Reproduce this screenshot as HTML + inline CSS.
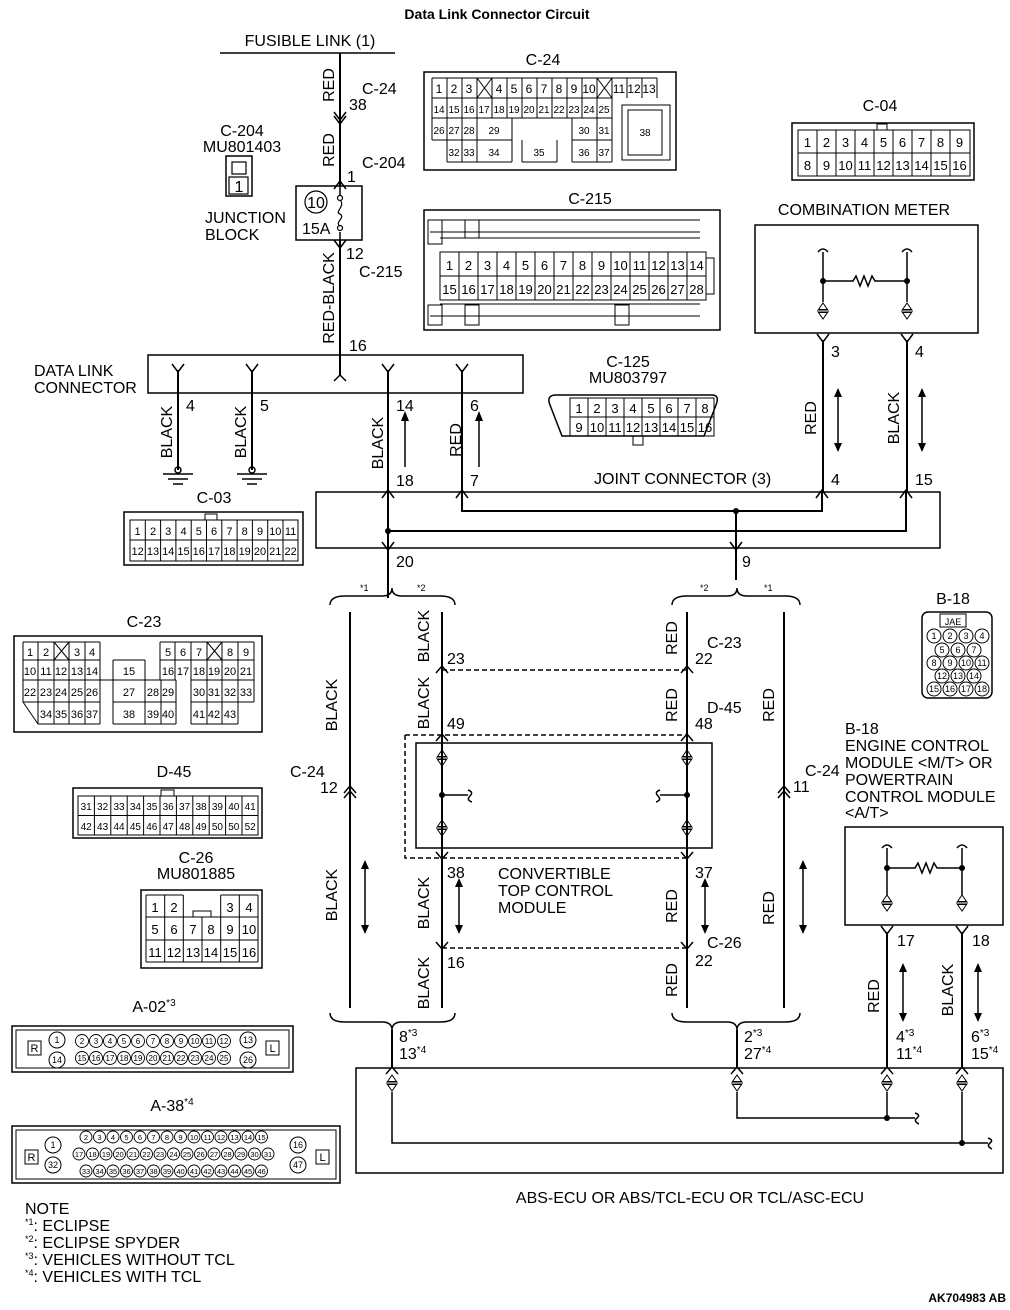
<!DOCTYPE html>
<html><head><meta charset="utf-8"><style>
html,body{margin:0;padding:0;background:#fff}
svg{display:block}
text{font-family:"Liberation Sans",sans-serif;fill:#000}
.t{font-size:16px}
.s{font-size:12px}
.xs{font-size:10px}
.c{font-size:9px}
.m{text-anchor:middle}
</style></head><body>
<svg width="1010" height="1310" viewBox="0 0 1010 1310" xmlns="http://www.w3.org/2000/svg">
<defs>
<g id="dt" fill="none" stroke="#000" stroke-width="1"><path d="M-4.5,6.5 L0,0 L4.5,6.5 Z"/><path d="M-4.5,9.5 L4.5,9.5 L0,16 Z"/><path d="M-6,8 H6"/></g>
</defs>
<g stroke="#000" stroke-width="2" fill="none">
<path d="M220,53 H395" stroke-width="1.5"/>
<path d="M340,53 V186 M340,240 V375"/>
<path d="M334,112 L340,120 L346,112 M334,116 L340,124 L346,116" stroke-width="1.5"/>
<path d="M334,189 L340,181 L346,189" stroke-width="1.5"/>
<path d="M334,240 L340,248 L346,240" stroke-width="1.5"/>
<path d="M334,381 L340,375 L346,381" stroke-width="1.5"/>
<rect x="296" y="186" width="66" height="54" stroke-width="1.5"/>
<path d="M340,186 V196 M340,232 V240" stroke-width="1.5"/>
<circle cx="340" cy="198" r="2.5" stroke-width="1.2"/><circle cx="340" cy="228" r="2.5" stroke-width="1.2"/>
<path d="M340,200 C346,206 334,212 340,214 C346,218 334,222 340,226" stroke-width="1.2"/>
<circle cx="316" cy="202" r="11" stroke-width="1.2"/>
<rect x="226" y="156" width="26" height="40" stroke-width="1.5"/>
<rect x="232" y="162" width="14" height="12" stroke-width="1.2"/>
<rect x="229" y="177" width="19" height="17" stroke-width="1.2"/>
<rect x="148" y="355" width="375" height="38" stroke-width="1.5"/>
<path d="M178,370 V470 M252,370 V470 M388,370 V492 M462,370 V492"/>
<path d="M172,364 L178,372 L184,364 M246,364 L252,372 L258,364 M382,364 L388,372 L394,364 M456,364 L462,372 L468,364" stroke-width="1.5"/>
<g stroke-width="1.5"><circle cx="178" cy="470" r="3"/><circle cx="252" cy="470" r="3"/>
<path d="M163,474 H193 M168,479 H188 M173,484 H183 M237,474 H267 M242,479 H262 M247,484 H257"/></g>
<path d="M405,467 V420" stroke-width="1.5"/>
<path d="M479,467 V420" stroke-width="1.5"/>
<rect x="316" y="492" width="624" height="56" stroke-width="1.5"/>
<path d="M462,492 V511 H822 V492 M736,511 V580 M388,492 V598 M388,531 H906 V492"/>
<path d="M823,340 V492 M907,340 V492"/>
<path d="M382,498 L388,490 L394,498 M456,498 L462,490 L468,498 M816,498 L822,490 L828,498 M900,498 L906,490 L912,498" stroke-width="1.5"/>
<path d="M382,542 L388,550 L394,542 M730,542 L736,550 L742,542" stroke-width="1.5"/>
<path d="M817,334 L823,342 L829,334 M901,334 L907,342 L913,334" stroke-width="1.5"/>
<path d="M838,395 V445 M922,395 V445" stroke-width="1.5"/>
<rect x="755" y="225" width="223" height="108" stroke-width="1.5"/>
<g stroke-width="1.5"><path d="M823,252 V302 M907,252 V302 M823,281 H853 L856,276 L860,286 L864,276 L868,286 L872,276 L875,281 H907"/>
<path d="M818,252 Q823,246 828,252 M902,252 Q907,246 912,252"/></g>
<use href="#dt" x="823" y="303"/><use href="#dt" x="907" y="303"/>
<path d="M330,605 Q330,596 345,596 H382 Q392,596 392,588 Q392,596 402,596 H440 Q455,596 455,605" stroke-width="1.5"/>
<path d="M672,605 Q672,596 687,596 H727 Q737,596 737,588 Q737,596 747,596 H785 Q800,596 800,605" stroke-width="1.5"/>
<path d="M330,1013 Q330,1022 345,1022 H382 Q392,1022 392,1030 Q392,1022 402,1022 H440 Q455,1022 455,1013" stroke-width="1.5"/>
<path d="M672,1013 Q672,1022 687,1022 H727 Q737,1022 737,1030 Q737,1022 747,1022 H785 Q800,1022 800,1013" stroke-width="1.5"/>
<path d="M350,612 V1008 M442,612 V1008 M687,612 V1008 M784,612 V1008"/>
<path d="M392,1030 V1068 M737,1030 V1068"/>
<g stroke-width="1.5">
<path d="M344,793 L350,786 L356,793 M344,798 L350,791 L356,798 M778,793 L784,786 L790,793 M778,798 L784,791 L790,798"/>
<path d="M436,673 L442,666 L448,673 M681,673 L687,666 L693,673 M436,741 L442,734 L448,741 M681,741 L687,734 L693,741"/>
<path d="M436,852 L442,859 L448,852 M681,852 L687,859 L693,852 M436,942 L442,949 L448,942 M681,942 L687,949 L693,942"/>
<path d="M386,1074 L392,1067 L398,1074 M731,1074 L737,1067 L743,1074"/>
<path d="M442,670 H687 M405,735 H687 M405,735 V858 H687 M442,948 H687" stroke-dasharray="5,3"/>
<rect x="416" y="743" width="296" height="105"/>
<path d="M442,768 V820 M687,768 V820 M442,795 H468 M660,795 H687"/>
<path d="M468,790 Q474,792 470,796 Q466,800 472,802 M660,790 Q654,792 658,796 Q662,800 656,802"/>
<path d="M365,867 V927 M459,885 V927 M705,885 V927 M803,867 V927"/>
</g>
<use href="#dt" x="442" y="750"/><use href="#dt" x="687" y="750"/>
<use href="#dt" x="442" y="820"/><use href="#dt" x="687" y="820"/>
<rect x="845" y="827" width="158" height="98" stroke-width="1.5"/>
<g stroke-width="1.5"><path d="M887,848 V895 M962,848 V895 M887,868 H915 L918,863 L922,873 L926,863 L930,873 L934,863 L937,868 H962"/>
<path d="M882,848 Q887,842 892,848 M957,848 Q962,842 967,848"/>
<path d="M881,926 L887,934 L893,926 M956,926 L962,934 L968,926"/>
<path d="M881,1074 L887,1067 L893,1074 M956,1074 L962,1067 L968,1074"/>
<path d="M903,970 V1015 M978,970 V1015"/></g>
<use href="#dt" x="887" y="895"/><use href="#dt" x="962" y="895"/>
<path d="M887,932 V1068 M962,932 V1068"/>
<rect x="356" y="1068" width="647" height="105" stroke-width="1.5"/>
<use href="#dt" x="392" y="1075"/><use href="#dt" x="737" y="1075"/><use href="#dt" x="887" y="1075"/><use href="#dt" x="962" y="1075"/>
<g stroke-width="1.5"><path d="M392,1092 V1143 H988 M962,1092 V1143 M737,1092 V1118 H915 M887,1092 V1118"/>
<path d="M915,1113 Q921,1115 917,1118 Q913,1121 919,1124 M988,1138 Q994,1140 990,1143 Q986,1146 992,1149"/></g>
</g>
<g fill="#000"><circle cx="736" cy="511" r="3"/><circle cx="388" cy="531" r="3"/><circle cx="823" cy="281" r="3"/><circle cx="907" cy="281" r="3"/>
<circle cx="442" cy="795" r="3"/><circle cx="687" cy="795" r="3"/><circle cx="887" cy="868" r="3"/><circle cx="962" cy="868" r="3"/>
<circle cx="887" cy="1118" r="3"/><circle cx="962" cy="1143" r="3"/>
<path d="M401,421 L405,411 L409,421 Z M475,421 L479,411 L483,421 Z"/>
<path d="M834,397 L838,388 L842,397 Z M834,443 L838,452 L842,443 Z M918,397 L922,388 L926,397 Z M918,443 L922,452 L926,443 Z"/>
<path d="M361,869 L365,860 L369,869 Z M361,925 L365,934 L369,925 Z M455,887 L459,878 L463,887 Z M455,925 L459,934 L463,925 Z"/>
<path d="M701,887 L705,878 L709,887 Z M701,925 L705,934 L709,925 Z M799,869 L803,860 L807,869 Z M799,925 L803,934 L807,925 Z"/>
<path d="M899,972 L903,963 L907,972 Z M899,1013 L903,1022 L907,1013 Z M974,972 L978,963 L982,972 Z M974,1013 L978,1022 L982,1013 Z"/>
</g>

<text x="497" y="19" class="m" style="font-size:14px;font-weight:bold">Data Link Connector Circuit</text>
<text x="310" y="46" class="t m">FUSIBLE LINK (1)</text>
<text class="t m" transform="translate(334,85) rotate(-90)">RED</text>
<text class="t m" transform="translate(334,150) rotate(-90)">RED</text>
<text class="t m" transform="translate(334,298) rotate(-90)">RED-BLACK</text>
<text x="362" y="94" class="t">C-24</text><text x="349" y="110" class="t">38</text>
<text x="362" y="168" class="t">C-204</text><text x="347" y="182" class="t">1</text>
<text x="346" y="259" class="t">12</text><text x="359" y="277" class="t">C-215</text>
<text x="349" y="351" class="t">16</text>
<text x="242" y="136" class="t m">C-204</text><text x="242" y="152" class="t m">MU801403</text>
<text x="239" y="192" class="t m">1</text>
<text x="205" y="223" class="t">JUNCTION</text><text x="205" y="240" class="t">BLOCK</text>
<text x="316" y="208" class="t m">10</text><text x="302" y="234" class="t">15A</text>
<text x="34" y="376" class="t">DATA LINK</text><text x="34" y="393" class="t">CONNECTOR</text>
<text x="186" y="411" class="t">4</text><text x="260" y="411" class="t">5</text>
<text x="396" y="411" class="t">14</text><text x="470" y="411" class="t">6</text>
<text x="396" y="486" class="t">18</text><text x="470" y="486" class="t">7</text>
<text class="t m" transform="translate(172,432) rotate(-90)">BLACK</text>
<text class="t m" transform="translate(246,432) rotate(-90)">BLACK</text>
<text class="t m" transform="translate(383,443) rotate(-90)">BLACK</text>
<text class="t m" transform="translate(461,440) rotate(-90)">RED</text>
<text x="594" y="484" class="t">JOINT CONNECTOR (3)</text>
<text x="831" y="357" class="t">3</text><text x="915" y="357" class="t">4</text>
<text x="831" y="485" class="t">4</text><text x="915" y="485" class="t">15</text>
<text class="t m" transform="translate(816,418) rotate(-90)">RED</text>
<text class="t m" transform="translate(899,418) rotate(-90)">BLACK</text>
<text x="396" y="567" class="t">20</text><text x="742" y="567" class="t">9</text>
<text x="864" y="215" class="t m">COMBINATION METER</text>
<text x="543" y="65" class="t m">C-24</text>
<text x="590" y="204" class="t m">C-215</text>
<text x="880" y="111" class="t m">C-04</text>
<text x="628" y="367" class="t m">C-125</text><text x="628" y="383" class="t m">MU803797</text>
<text x="214" y="503" class="t m">C-03</text>
<text x="144" y="627" class="t m">C-23</text>
<text x="174" y="777" class="t m">D-45</text>
<text x="196" y="863" class="t m">C-26</text><text x="196" y="879" class="t m">MU801885</text>
<text x="953" y="604" class="t m">B-18</text>
<text x="154" y="1012" class="t m">A-02<tspan class="xs" dy="-6">*3</tspan></text>
<text x="172" y="1111" class="t m">A-38<tspan class="xs" dy="-6">*4</tspan></text>

<text x="360" y="591" class="c">*1</text><text x="417" y="591" class="c">*2</text>
<text x="700" y="591" class="c">*2</text><text x="764" y="591" class="c">*1</text>
<text class="t m" transform="translate(337,705) rotate(-90)">BLACK</text>
<text class="t m" transform="translate(337,895) rotate(-90)">BLACK</text>
<text class="t m" transform="translate(429,636) rotate(-90)">BLACK</text>
<text class="t m" transform="translate(429,703) rotate(-90)">BLACK</text>
<text class="t m" transform="translate(429,903) rotate(-90)">BLACK</text>
<text class="t m" transform="translate(429,983) rotate(-90)">BLACK</text>
<text class="t m" transform="translate(677,638) rotate(-90)">RED</text>
<text class="t m" transform="translate(677,705) rotate(-90)">RED</text>
<text class="t m" transform="translate(677,906) rotate(-90)">RED</text>
<text class="t m" transform="translate(677,980) rotate(-90)">RED</text>
<text class="t m" transform="translate(774,705) rotate(-90)">RED</text>
<text class="t m" transform="translate(774,908) rotate(-90)">RED</text>
<text x="447" y="664" class="t">23</text><text x="447" y="729" class="t">49</text>
<text x="447" y="878" class="t">38</text><text x="447" y="968" class="t">16</text>
<text x="695" y="664" class="t">22</text><text x="707" y="648" class="t">C-23</text>
<text x="695" y="729" class="t">48</text><text x="707" y="713" class="t">D-45</text>
<text x="695" y="878" class="t">37</text>
<text x="707" y="948" class="t">C-26</text><text x="695" y="966" class="t">22</text>
<text x="290" y="777" class="t">C-24</text><text x="320" y="793" class="t">12</text>
<text x="805" y="776" class="t">C-24</text><text x="793" y="792" class="t">11</text>
<text x="498" y="879" class="t">CONVERTIBLE</text><text x="498" y="896" class="t">TOP CONTROL</text><text x="498" y="913" class="t">MODULE</text>
<text x="399" y="1042" class="t">8<tspan class="xs" dy="-6">*3</tspan></text>
<text x="399" y="1059" class="t">13<tspan class="xs" dy="-6">*4</tspan></text>
<text x="744" y="1042" class="t">2<tspan class="xs" dy="-6">*3</tspan></text>
<text x="744" y="1059" class="t">27<tspan class="xs" dy="-6">*4</tspan></text>
<text x="896" y="1042" class="t">4<tspan class="xs" dy="-6">*3</tspan></text>
<text x="896" y="1059" class="t">11<tspan class="xs" dy="-6">*4</tspan></text>
<text x="971" y="1042" class="t">6<tspan class="xs" dy="-6">*3</tspan></text>
<text x="971" y="1059" class="t">15<tspan class="xs" dy="-6">*4</tspan></text>
<text x="845" y="734" class="t">B-18</text>
<text x="845" y="751" class="t">ENGINE CONTROL</text>
<text x="845" y="768" class="t">MODULE &lt;M/T&gt; OR</text>
<text x="845" y="785" class="t">POWERTRAIN</text>
<text x="845" y="802" class="t">CONTROL MODULE</text>
<text x="845" y="818" class="t">&lt;A/T&gt;</text>
<text x="897" y="946" class="t">17</text><text x="972" y="946" class="t">18</text>
<text class="t m" transform="translate(879,996) rotate(-90)">RED</text>
<text class="t m" transform="translate(953,990) rotate(-90)">BLACK</text>
<text x="690" y="1203" class="t m">ABS-ECU OR ABS/TCL-ECU OR TCL/ASC-ECU</text>
<text x="25" y="1214" class="t">NOTE</text>
<text x="25" y="1231" class="t"><tspan class="c" dy="-6">*1</tspan><tspan dy="6">: ECLIPSE</tspan></text>
<text x="25" y="1248" class="t"><tspan class="c" dy="-6">*2</tspan><tspan dy="6">: ECLIPSE SPYDER</tspan></text>
<text x="25" y="1265" class="t"><tspan class="c" dy="-6">*3</tspan><tspan dy="6">: VEHICLES WITHOUT TCL</tspan></text>
<text x="25" y="1282" class="t"><tspan class="c" dy="-6">*4</tspan><tspan dy="6">: VEHICLES WITH TCL</tspan></text>
<text x="1006" y="1302" style="font-size:12px;font-weight:bold;text-anchor:end">AK704983 AB</text>

<g stroke="#000" stroke-width="1" fill="none">
<rect x="424" y="72" width="252" height="98" stroke-width="1.5"/>
<path d="M432,78 H657 M432,98 H612 M432,118 H612 M432,140 H512 M572,140 H612 M447,162 H512 M522,162 H557 M572,162 H612
M432,78 V140 M447,78 V162 M462,78 V162 M477,78 V162 M492,78 V118 M507,78 V118 M522,78 V118 M537,78 V118 M552,78 V118 M567,78 V118 M582,78 V118 M597,78 V162 M612,78 V162 M627,78 V98 M642,78 V98 M657,78 V98
M512,118 V162 M522,140 V162 M557,140 V162 M572,118 V162 M477,78 L492,98 M492,78 L477,98 M597,78 L612,98 M612,78 L597,98"/>
<rect x="622" y="105" width="48" height="55"/><rect x="628" y="110" width="34" height="45"/>
<rect x="424" y="210" width="296" height="120" stroke-width="1.5"/>
<path d="M430,220 H700 M430,232 H700 M440,238 H700 M430,316 H700 M440,304 H700"/>
<rect x="428" y="220" width="14" height="24"/><rect x="465" y="220" width="14" height="18"/>
<rect x="428" y="305" width="14" height="20"/><rect x="465" y="305" width="14" height="20"/><rect x="615" y="305" width="14" height="20"/>
<rect x="440" y="252" width="266" height="48"/><path d="M440,276 H706 M459,252 V300 M478,252 V300 M497,252 V300 M516,252 V300 M535,252 V300 M554,252 V300 M573,252 V300 M592,252 V300 M611,252 V300 M630,252 V300 M649,252 V300 M668,252 V300 M687,252 V300"/>
<path d="M706,258 H714 V294 H706"/>
<rect x="792" y="123" width="182" height="57" stroke-width="1.5"/>
<rect x="798" y="130" width="172" height="46"/>
<path d="M798,153 H970 M817,130 V176 M836,130 V176 M855,130 V176 M874,130 V176 M893,130 V176 M912,130 V176 M931,130 V176 M950,130 V176"/>
<rect x="877" y="124" width="10" height="6"/>
<path d="M556,395 H712 Q720,395 716,405 L704,436 H562 L550,405 Q546,395 556,395 Z" stroke-width="1.5"/>
<rect x="570" y="398" width="144" height="38"/>
<path d="M570,417 H714 M588,398 V436 M606,398 V436 M624,398 V436 M642,398 V436 M660,398 V436 M678,398 V436 M696,398 V436"/>
<rect x="633" y="436" width="10" height="9"/>
<rect x="124" y="512" width="179" height="53" stroke-width="1.5"/>
<rect x="130" y="520" width="168" height="41"/>
<path d="M130,540 H298 M145.3,520 V561 M160.6,520 V561 M175.9,520 V561 M191.2,520 V561 M206.5,520 V561 M221.8,520 V561 M237.1,520 V561 M252.4,520 V561 M267.7,520 V561 M283,520 V561"/>
<rect x="205" y="514" width="12" height="6"/>
<rect x="14" y="636" width="248" height="96" stroke-width="1.5"/>
<path d="M23,642 H100 M23,660 H100 M23,680 H100 M23,702 H100 M38,724 H100 M23,642 V702 M38,642 V724 M54,642 V724 M69,642 V724 M85,642 V724 M100,642 V724 M54,642 L69,660 M69,642 L54,660 M23,702 L38,724
M113,660 H145 M113,680 H176 M113,702 H176 M113,724 H176 M113,660 V724 M145,660 V724 M161,680 V724 M176,680 V724
M160,642 H254 M160,660 H254 M191,680 H254 M191,702 H254 M191,724 H238 M160,642 V680 M175,642 V680 M191,642 V724 M207,642 V724 M222,642 V724 M238,642 V724 M254,642 V702 M207,642 L222,660 M222,642 L207,660 M100,680 H160"/>
<rect x="73" y="788" width="189" height="50" stroke-width="1.5"/>
<rect x="78" y="796" width="180" height="39"/>
<path d="M78,815.5 H258 M94.4,796 V835 M110.8,796 V835 M127.2,796 V835 M143.6,796 V835 M160,796 V835 M176.4,796 V835 M192.8,796 V835 M209.2,796 V835 M225.6,796 V835 M242,796 V835"/>
<rect x="161" y="790" width="13" height="6"/>
<rect x="141" y="890" width="121" height="78" stroke-width="1.5"/>
<path d="M146,895 H183 M221,895 H258 M146,917 H258 M146,940 H258 M146,962 H258 M146,895 V962 M164.7,895 V962 M183.3,895 V962 M202,917 V962 M220.7,895 V962 M239.3,895 V962 M258,895 V962"/>
<rect x="193" y="911" width="18" height="6"/>
<rect x="922" y="612" width="70" height="86" rx="6" stroke-width="1.5"/>
<rect x="940" y="614" width="26" height="13"/>
<circle cx="934" cy="636" r="7"/><circle cx="950" cy="636" r="7"/><circle cx="966" cy="636" r="7"/><circle cx="982" cy="636" r="7"/>
<circle cx="942" cy="650" r="7"/><circle cx="958" cy="650" r="7"/><circle cx="974" cy="650" r="7"/>
<circle cx="934" cy="663" r="7"/><circle cx="950" cy="663" r="7"/><circle cx="966" cy="663" r="7"/><circle cx="982" cy="663" r="7"/>
<circle cx="942" cy="676" r="7"/><circle cx="958" cy="676" r="7"/><circle cx="974" cy="676" r="7"/>
<circle cx="934" cy="689" r="7"/><circle cx="950" cy="689" r="7"/><circle cx="966" cy="689" r="7"/><circle cx="982" cy="689" r="7"/>
<rect x="12" y="1026" width="281" height="46" stroke-width="1.5"/><rect x="16" y="1030" width="273" height="38"/>
<rect x="28" y="1041" width="13" height="14"/><rect x="266" y="1041" width="13" height="14"/>
<circle cx="57" cy="1040" r="8"/><circle cx="57" cy="1060" r="8"/><circle cx="248" cy="1040" r="8"/><circle cx="248" cy="1060" r="8"/>
<rect x="12" y="1126" width="328" height="57" stroke-width="1.5"/><rect x="16" y="1130" width="320" height="49"/>
<rect x="25" y="1150" width="13" height="14"/><rect x="316" y="1150" width="13" height="14"/>
<circle cx="53" cy="1145" r="8"/><circle cx="53" cy="1165" r="8"/><circle cx="298" cy="1145" r="8"/><circle cx="298" cy="1165" r="8"/>
</g>
<g class="s" text-anchor="middle">
<text x="439" y="93">1</text><text x="454" y="93">2</text><text x="469" y="93">3</text>
<text x="499" y="93">4</text><text x="514" y="93">5</text><text x="529" y="93">6</text><text x="544" y="93">7</text><text x="559" y="93">8</text><text x="574" y="93">9</text><text x="589" y="93">10</text>
<text x="619" y="93">11</text><text x="634" y="93">12</text><text x="649" y="93">13</text>
<g class="xs"><text x="439" y="113">14</text><text x="454" y="113">15</text><text x="469" y="113">16</text><text x="484" y="113">17</text><text x="499" y="113">18</text><text x="514" y="113">19</text><text x="529" y="113">20</text><text x="544" y="113">21</text><text x="559" y="113">22</text><text x="574" y="113">23</text><text x="589" y="113">24</text><text x="604" y="113">25</text>
<text x="439" y="134">26</text><text x="454" y="134">27</text><text x="469" y="134">28</text><text x="494" y="134">29</text><text x="584" y="134">30</text><text x="604" y="134">31</text>
<text x="454" y="156">32</text><text x="469" y="156">33</text><text x="494" y="156">34</text><text x="539" y="156">35</text><text x="584" y="156">36</text><text x="604" y="156">37</text><text x="645" y="136">38</text></g>
<g style="font-size:13px"><text x="449.5" y="270">1</text><text x="468.5" y="270">2</text><text x="487.5" y="270">3</text><text x="506.5" y="270">4</text><text x="525.5" y="270">5</text><text x="544.5" y="270">6</text><text x="563.5" y="270">7</text><text x="582.5" y="270">8</text><text x="601.5" y="270">9</text><text x="620.5" y="270">10</text><text x="639.5" y="270">11</text><text x="658.5" y="270">12</text><text x="677.5" y="270">13</text><text x="696.5" y="270">14</text>
<text x="449.5" y="294">15</text><text x="468.5" y="294">16</text><text x="487.5" y="294">17</text><text x="506.5" y="294">18</text><text x="525.5" y="294">19</text><text x="544.5" y="294">20</text><text x="563.5" y="294">21</text><text x="582.5" y="294">22</text><text x="601.5" y="294">23</text><text x="620.5" y="294">24</text><text x="639.5" y="294">25</text><text x="658.5" y="294">26</text><text x="677.5" y="294">27</text><text x="696.5" y="294">28</text>
<text x="807.5" y="147">1</text><text x="826.5" y="147">2</text><text x="845.5" y="147">3</text><text x="864.5" y="147">4</text><text x="883.5" y="147">5</text><text x="902.5" y="147">6</text><text x="921.5" y="147">7</text><text x="940.5" y="147">8</text><text x="959.5" y="147">9</text>
<text x="807.5" y="170">8</text><text x="826.5" y="170">9</text><text x="845.5" y="170">10</text><text x="864.5" y="170">11</text><text x="883.5" y="170">12</text><text x="902.5" y="170">13</text><text x="921.5" y="170">14</text><text x="940.5" y="170">15</text><text x="959.5" y="170">16</text>
<text x="579" y="413">1</text><text x="597" y="413">2</text><text x="615" y="413">3</text><text x="633" y="413">4</text><text x="651" y="413">5</text><text x="669" y="413">6</text><text x="687" y="413">7</text><text x="705" y="413">8</text>
<text x="579" y="432">9</text><text x="597" y="432">10</text><text x="615" y="432">11</text><text x="633" y="432">12</text><text x="651" y="432">13</text><text x="669" y="432">14</text><text x="687" y="432">15</text><text x="705" y="432">16</text>
<text x="155" y="912">1</text><text x="174" y="912">2</text><text x="230" y="912">3</text><text x="249" y="912">4</text>
<text x="155" y="934">5</text><text x="174" y="934">6</text><text x="193" y="934">7</text><text x="211" y="934">8</text><text x="230" y="934">9</text><text x="249" y="934">10</text>
<text x="155" y="957">11</text><text x="174" y="957">12</text><text x="193" y="957">13</text><text x="211" y="957">14</text><text x="230" y="957">15</text><text x="249" y="957">16</text></g>
<g style="font-size:11px"><text x="137.6" y="535">1</text><text x="153" y="535">2</text><text x="168.2" y="535">3</text><text x="183.5" y="535">4</text><text x="198.8" y="535">5</text><text x="214.1" y="535">6</text><text x="229.4" y="535">7</text><text x="244.7" y="535">8</text><text x="260" y="535">9</text><text x="275.3" y="535">10</text><text x="290.6" y="535">11</text>
<text x="137.6" y="555">12</text><text x="153" y="555">13</text><text x="168.2" y="555">14</text><text x="183.5" y="555">15</text><text x="198.8" y="555">16</text><text x="214.1" y="555">17</text><text x="229.4" y="555">18</text><text x="244.7" y="555">19</text><text x="260" y="555">20</text><text x="275.3" y="555">21</text><text x="290.6" y="555">22</text>
<text x="30" y="656">1</text><text x="46" y="656">2</text><text x="77" y="656">3</text><text x="92" y="656">4</text><text x="168" y="656">5</text><text x="183" y="656">6</text><text x="199" y="656">7</text><text x="230" y="656">8</text><text x="246" y="656">9</text>
<text x="30" y="675">10</text><text x="46" y="675">11</text><text x="61" y="675">12</text><text x="77" y="675">13</text><text x="92" y="675">14</text><text x="129" y="675">15</text><text x="168" y="675">16</text><text x="183" y="675">17</text><text x="199" y="675">18</text><text x="214" y="675">19</text><text x="230" y="675">20</text><text x="246" y="675">21</text>
<text x="30" y="696">22</text><text x="46" y="696">23</text><text x="61" y="696">24</text><text x="77" y="696">25</text><text x="92" y="696">26</text><text x="129" y="696">27</text><text x="153" y="696">28</text><text x="168" y="696">29</text><text x="199" y="696">30</text><text x="214" y="696">31</text><text x="230" y="696">32</text><text x="246" y="696">33</text>
<text x="46" y="718">34</text><text x="61" y="718">35</text><text x="77" y="718">36</text><text x="92" y="718">37</text><text x="129" y="718">38</text><text x="153" y="718">39</text><text x="168" y="718">40</text><text x="199" y="718">41</text><text x="214" y="718">42</text><text x="230" y="718">43</text></g>
<g class="xs"><text x="86.2" y="810">31</text><text x="102.6" y="810">32</text><text x="119" y="810">33</text><text x="135.4" y="810">34</text><text x="151.8" y="810">35</text><text x="168.2" y="810">36</text><text x="184.6" y="810">37</text><text x="201" y="810">38</text><text x="217.4" y="810">39</text><text x="233.8" y="810">40</text><text x="250.2" y="810">41</text>
<text x="86.2" y="830">42</text><text x="102.6" y="830">43</text><text x="119" y="830">44</text><text x="135.4" y="830">45</text><text x="151.8" y="830">46</text><text x="168.2" y="830">47</text><text x="184.6" y="830">48</text><text x="201" y="830">49</text><text x="217.4" y="830">50</text><text x="233.8" y="830">50</text><text x="250.2" y="830">52</text>
<text x="953" y="625" style="font-size:9px">JAE</text></g>
<g class="c"><text x="934" y="639">1</text><text x="950" y="639">2</text><text x="966" y="639">3</text><text x="982" y="639">4</text>
<text x="942" y="653">5</text><text x="958" y="653">6</text><text x="974" y="653">7</text>
<text x="934" y="666">8</text><text x="950" y="666">9</text><text x="966" y="666">10</text><text x="982" y="666">11</text>
<text x="942" y="679">12</text><text x="958" y="679">13</text><text x="974" y="679">14</text>
<text x="934" y="692">15</text><text x="950" y="692">16</text><text x="966" y="692">17</text><text x="982" y="692">18</text>
<text x="57" y="1043">1</text><text x="57" y="1063">14</text><text x="248" y="1043">13</text><text x="248" y="1063">26</text>
<text x="34.5" y="1052" style="font-size:11px">R</text><text x="272.5" y="1052" style="font-size:11px">L</text>
<text x="53" y="1148">1</text><text x="53" y="1168">32</text><text x="298" y="1148">16</text><text x="298" y="1168">47</text>
<text x="31.5" y="1161" style="font-size:11px">R</text><text x="322.5" y="1161" style="font-size:11px">L</text></g>
</g>
<g stroke="#000" stroke-width="0.9" fill="none">
<circle cx="82" cy="1041" r="6.5"/><circle cx="96" cy="1041" r="6.5"/><circle cx="110" cy="1041" r="6.5"/><circle cx="124" cy="1041" r="6.5"/><circle cx="138" cy="1041" r="6.5"/><circle cx="153" cy="1041" r="6.5"/><circle cx="167" cy="1041" r="6.5"/><circle cx="181" cy="1041" r="6.5"/><circle cx="195" cy="1041" r="6.5"/><circle cx="209" cy="1041" r="6.5"/><circle cx="224" cy="1041" r="6.5"/>
<circle cx="82" cy="1058" r="6.5"/><circle cx="96" cy="1058" r="6.5"/><circle cx="110" cy="1058" r="6.5"/><circle cx="124" cy="1058" r="6.5"/><circle cx="138" cy="1058" r="6.5"/><circle cx="153" cy="1058" r="6.5"/><circle cx="167" cy="1058" r="6.5"/><circle cx="181" cy="1058" r="6.5"/><circle cx="195" cy="1058" r="6.5"/><circle cx="209" cy="1058" r="6.5"/><circle cx="224" cy="1058" r="6.5"/>
</g>
<g style="font-size:8px" text-anchor="middle">
<text x="82" y="1044">2</text><text x="96" y="1044">3</text><text x="110" y="1044">4</text><text x="124" y="1044">5</text><text x="138" y="1044">6</text><text x="153" y="1044">7</text><text x="167" y="1044">8</text><text x="181" y="1044">9</text><text x="195" y="1044">10</text><text x="209" y="1044">11</text><text x="224" y="1044">12</text>
<text x="82" y="1061">15</text><text x="96" y="1061">16</text><text x="110" y="1061">17</text><text x="124" y="1061">18</text><text x="138" y="1061">19</text><text x="153" y="1061">20</text><text x="167" y="1061">21</text><text x="181" y="1061">22</text><text x="195" y="1061">23</text><text x="209" y="1061">24</text><text x="224" y="1061">25</text>
</g>
<g stroke="#000" stroke-width="0.9" fill="none">
<circle cx="86" cy="1137" r="6"/><circle cx="99.5" cy="1137" r="6"/><circle cx="113" cy="1137" r="6"/><circle cx="126.5" cy="1137" r="6"/><circle cx="140" cy="1137" r="6"/><circle cx="153.5" cy="1137" r="6"/><circle cx="167" cy="1137" r="6"/><circle cx="180.5" cy="1137" r="6"/><circle cx="194" cy="1137" r="6"/><circle cx="207.5" cy="1137" r="6"/><circle cx="221" cy="1137" r="6"/><circle cx="234.5" cy="1137" r="6"/><circle cx="248" cy="1137" r="6"/><circle cx="261.5" cy="1137" r="6"/>
<circle cx="79" cy="1154" r="6"/><circle cx="92.5" cy="1154" r="6"/><circle cx="106" cy="1154" r="6"/><circle cx="119.5" cy="1154" r="6"/><circle cx="133" cy="1154" r="6"/><circle cx="146.5" cy="1154" r="6"/><circle cx="160" cy="1154" r="6"/><circle cx="173.5" cy="1154" r="6"/><circle cx="187" cy="1154" r="6"/><circle cx="200.5" cy="1154" r="6"/><circle cx="214" cy="1154" r="6"/><circle cx="227.5" cy="1154" r="6"/><circle cx="241" cy="1154" r="6"/><circle cx="254.5" cy="1154" r="6"/><circle cx="268" cy="1154" r="6"/>
<circle cx="86" cy="1171" r="6"/><circle cx="99.5" cy="1171" r="6"/><circle cx="113" cy="1171" r="6"/><circle cx="126.5" cy="1171" r="6"/><circle cx="140" cy="1171" r="6"/><circle cx="153.5" cy="1171" r="6"/><circle cx="167" cy="1171" r="6"/><circle cx="180.5" cy="1171" r="6"/><circle cx="194" cy="1171" r="6"/><circle cx="207.5" cy="1171" r="6"/><circle cx="221" cy="1171" r="6"/><circle cx="234.5" cy="1171" r="6"/><circle cx="248" cy="1171" r="6"/><circle cx="261.5" cy="1171" r="6"/>
</g>
<g style="font-size:7.5px" text-anchor="middle">
<text x="86" y="1140">2</text><text x="99.5" y="1140">3</text><text x="113" y="1140">4</text><text x="126.5" y="1140">5</text><text x="140" y="1140">6</text><text x="153.5" y="1140">7</text><text x="167" y="1140">8</text><text x="180.5" y="1140">9</text><text x="194" y="1140">10</text><text x="207.5" y="1140">11</text><text x="221" y="1140">12</text><text x="234.5" y="1140">13</text><text x="248" y="1140">14</text><text x="261.5" y="1140">15</text>
<text x="79" y="1157">17</text><text x="92.5" y="1157">18</text><text x="106" y="1157">19</text><text x="119.5" y="1157">20</text><text x="133" y="1157">21</text><text x="146.5" y="1157">22</text><text x="160" y="1157">23</text><text x="173.5" y="1157">24</text><text x="187" y="1157">25</text><text x="200.5" y="1157">26</text><text x="214" y="1157">27</text><text x="227.5" y="1157">28</text><text x="241" y="1157">29</text><text x="254.5" y="1157">30</text><text x="268" y="1157">31</text>
<text x="86" y="1174">33</text><text x="99.5" y="1174">34</text><text x="113" y="1174">35</text><text x="126.5" y="1174">36</text><text x="140" y="1174">37</text><text x="153.5" y="1174">38</text><text x="167" y="1174">39</text><text x="180.5" y="1174">40</text><text x="194" y="1174">41</text><text x="207.5" y="1174">42</text><text x="221" y="1174">43</text><text x="234.5" y="1174">44</text><text x="248" y="1174">45</text><text x="261.5" y="1174">46</text>
</g>
</svg>
</body></html>
